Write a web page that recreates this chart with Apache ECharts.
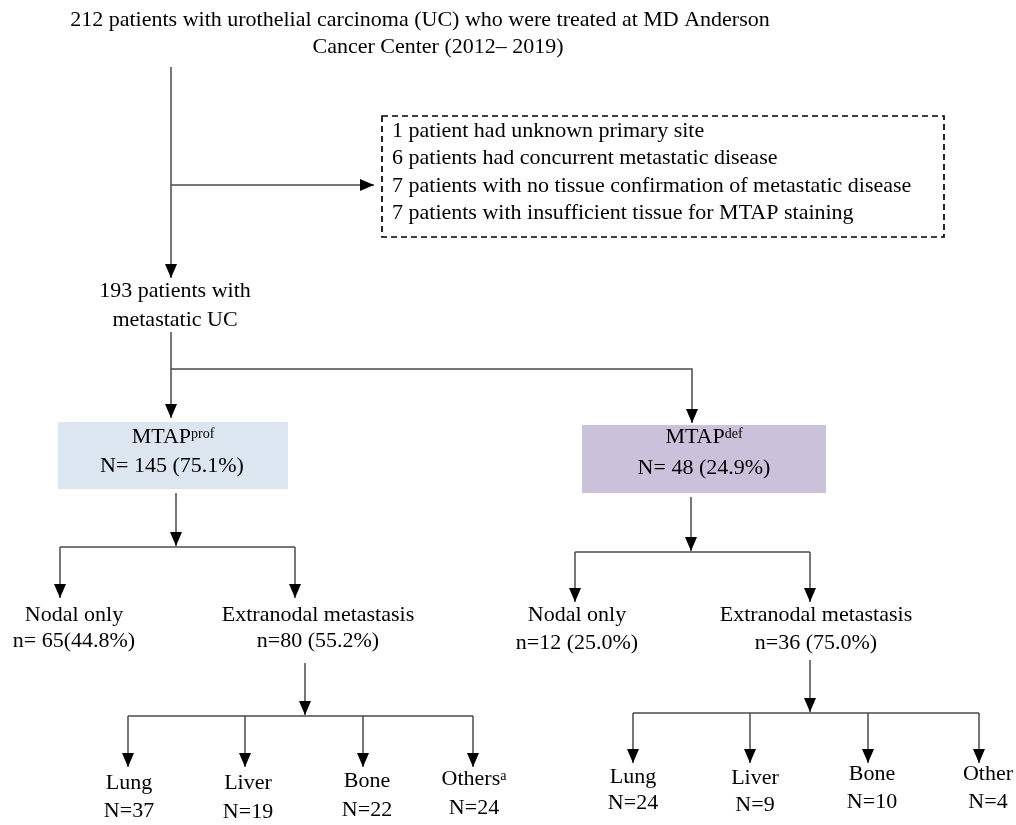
<!DOCTYPE html>
<html><head><meta charset="utf-8">
<script src="https://cdn.jsdelivr.net/npm/echarts@6/dist/echarts.min.js"></script>
<style>html,body{margin:0;padding:0;background:#fff}#c{width:1016px;height:825px}</style>
</head><body><div id="c"></div>
<script>
// ---------- DATA ----------
const titleLines = ['212 patients with urothelial carcinoma (UC) who were treated at MD Anderson', 'Cancer Center (2012\u2013 2019)'];
const exclusionCounts = [1, 6, 7, 7];
const exclusionReasons = [
  'patient had unknown primary site',
  'patients had concurrent metastatic disease',
  'patients with no tissue confirmation of metastatic disease',
  'patients with insufficient tissue for MTAP staining'
];
const cohortLines = ['193 patients with', 'metastatic UC'];
const groupNames = ['prof', 'def'];
const groupN = [145, 48];
const groupPct = ['75.1', '24.9'];
const nodalN = [65, 12];
const nodalPct = ['44.8', '25.0'];
const extraN = [80, 36];
const extraPct = ['55.2', '75.0'];
const siteNames = [['Lung', 'Liver', 'Bone', 'Others'], ['Lung', 'Liver', 'Bone', 'Other']];
const siteSup = [['', '', '', 'a'], ['', '', '', '']];
const siteN = [[37, 19, 22, 24], [24, 9, 10, 4]];

// ---------- LAYOUT (positions / styles) ----------
const FONT = '22px "Liberation Serif", "Times New Roman", serif';
const LINE = '#4a4a4a';
const layout = {
  title: [[420, 20], [438, 47]],
  exclBox: [382, 116, 944, 237],
  exclX: 392,
  exclY: [131, 158, 186, 213],
  cohort: [[175, 291], [175, 320]],
  groupBox: [[58, 422, 288, 489], [582, 425, 826, 493]],
  groupFill: ['#dce6f1', '#ccc1da'],
  groupText: [[[173, 437], [172, 466]], [[704, 437], [704, 468]]],
  nodal: [[[74, 615], [74, 641]], [[577, 615], [577, 643]]],
  nodalFmt: [(n, p) => 'n= ' + n + '(' + p + '%)', (n, p) => 'n=' + n + ' (' + p + '%)'],
  extra: [[[318, 615], [318, 641]], [[816, 615], [816, 643]]],
  siteX: [[129, 248, 367, 474], [633, 755, 872, 988]],
  siteNameY: [[783, 783, 781, 779], [777, 778, 774, 774]],
  siteNY: [[811, 812, 810, 808], [803, 805, 802, 802]],
  // arrowed polylines (arrow at last point)
  arrows: [
    [[171, 67], [171, 278]],
    [[171, 185], [374, 185]],
    [[171, 332], [171, 418]],
    [[171, 369], [692, 369], [692, 423]],
    [[176, 493], [176, 546]],
    [[60, 547], [60, 598]],
    [[295, 547], [295, 598]],
    [[305, 663], [305, 715]],
    [[128, 716], [128, 767]],
    [[245, 716], [245, 767]],
    [[363, 716], [363, 767]],
    [[473, 716], [473, 767]],
    [[691, 497], [691, 551]],
    [[575, 552], [575, 602]],
    [[810, 552], [810, 602]],
    [[810, 660], [810, 712]],
    [[633, 713], [633, 763]],
    [[750, 713], [750, 763]],
    [[868, 713], [868, 763]],
    [[979, 713], [979, 763]]
  ],
  bars: [
    [[60, 547], [295, 547]],
    [[128, 716], [473, 716]],
    [[575, 552], [810, 552]],
    [[633, 713], [979, 713]]
  ]
};

// ---------- BUILD ITEMS ----------
const texts = [];
titleLines.forEach((t, i) => texts.push({ p: layout.title[i], t: t, a: 'center' }));
exclusionCounts.forEach((c, i) => texts.push({ p: [layout.exclX, layout.exclY[i]], t: c + ' ' + exclusionReasons[i], a: 'left' }));
cohortLines.forEach((t, i) => texts.push({ p: layout.cohort[i], t: t, a: 'center' }));
groupNames.forEach((g, i) => {
  texts.push({ p: layout.groupText[i][0], t: 'MTAP', sup: g, a: 'center' });
  texts.push({ p: layout.groupText[i][1], t: 'N= ' + groupN[i] + ' (' + groupPct[i] + '%)', a: 'center' });
  texts.push({ p: layout.nodal[i][0], t: 'Nodal only', a: 'center' });
  texts.push({ p: layout.nodal[i][1], t: layout.nodalFmt[i](nodalN[i], nodalPct[i]), a: 'center' });
  texts.push({ p: layout.extra[i][0], t: 'Extranodal metastasis', a: 'center' });
  texts.push({ p: layout.extra[i][1], t: 'n=' + extraN[i] + ' (' + extraPct[i] + '%)', a: 'center' });
  siteNames[i].forEach((s, j) => {
    texts.push({ p: [layout.siteX[i][j], layout.siteNameY[i][j]], t: s, sup: siteSup[i][j], a: 'center' });
    texts.push({ p: [layout.siteX[i][j], layout.siteNY[i][j]], t: 'N=' + siteN[i][j], a: 'center' });
  });
});

const boxes = [];
groupNames.forEach((g, i) => boxes.push({ r: layout.groupBox[i], fill: layout.groupFill[i], dash: false }));
boxes.push({ r: layout.exclBox, fill: 'none', dash: true });

const connectors = layout.arrows.map(pts => ({ pts, arrow: true })).concat(layout.bars.map(pts => ({ pts, arrow: false })));

// ---------- CHART ----------
const chart = echarts.init(document.getElementById('c'), null, { renderer: 'canvas' });

function boxItem(params, api) {
  const b = boxes[params.dataIndex];
  const p0 = api.coord([b.r[0], b.r[1]]), p1 = api.coord([b.r[2], b.r[3]]);
  const shape = { x: Math.min(p0[0], p1[0]), y: Math.min(p0[1], p1[1]), width: Math.abs(p1[0] - p0[0]), height: Math.abs(p1[1] - p0[1]) };
  return {
    type: 'rect', shape,
    style: b.dash ? { fill: null, stroke: '#000', lineWidth: 1.7, lineDash: [6, 4] } : { fill: b.fill, stroke: null }
  };
}

function connItem(params, api) {
  const c = connectors[params.dataIndex];
  const pts = c.pts.map(p => api.coord(p));
  const children = [{ type: 'polyline', shape: { points: pts }, style: { stroke: LINE, lineWidth: 1.5, fill: null } }];
  if (c.arrow) {
    const a = pts[pts.length - 2], t = pts[pts.length - 1];
    let dx = t[0] - a[0], dy = t[1] - a[1];
    const len = Math.hypot(dx, dy); dx /= len; dy /= len;
    const L = 14, W = 6;
    const bx = t[0] - dx * L, by = t[1] - dy * L;
    children.push({ type: 'polygon', shape: { points: [[t[0], t[1]], [bx - dy * W, by + dx * W], [bx + dy * W, by - dx * W]] }, style: { fill: '#000' } });
  }
  return { type: 'group', children };
}

function textItem(params, api) {
  const it = texts[params.dataIndex];
  const p = api.coord(it.p);
  const txt = it.sup ? '{m|' + it.t + '}{s|' + it.sup + '}' : it.t;
  return {
    type: 'text', x: p[0], y: p[1],
    style: {
      text: txt, font: FONT, fill: '#000', align: it.a, verticalAlign: 'middle',
      rich: {
        m: { font: FONT, fill: '#000', lineHeight: 24 },
        s: { font: '14px "Liberation Serif", "Times New Roman", serif', fill: '#000', lineHeight: 14, verticalAlign: 'top', padding: [2, 0, 0, 0] }
      }
    }
  };
}

chart.setOption({
  animation: false,
  backgroundColor: '#fff',
  grid: { left: 0, right: 0, top: 0, bottom: 0 },
  xAxis: { type: 'value', min: 0, max: 1016, show: false },
  yAxis: { type: 'value', min: 0, max: 825, inverse: true, show: false },
  series: [
    { type: 'custom', clip: false, renderItem: boxItem, data: boxes.map(b => [b.r[0], b.r[1]]), silent: true },
    { type: 'custom', clip: false, renderItem: connItem, data: connectors.map(c => c.pts[0]), silent: true },
    { type: 'custom', clip: false, renderItem: textItem, data: texts.map(t => t.p), silent: true }
  ]
});
</script></body></html>
